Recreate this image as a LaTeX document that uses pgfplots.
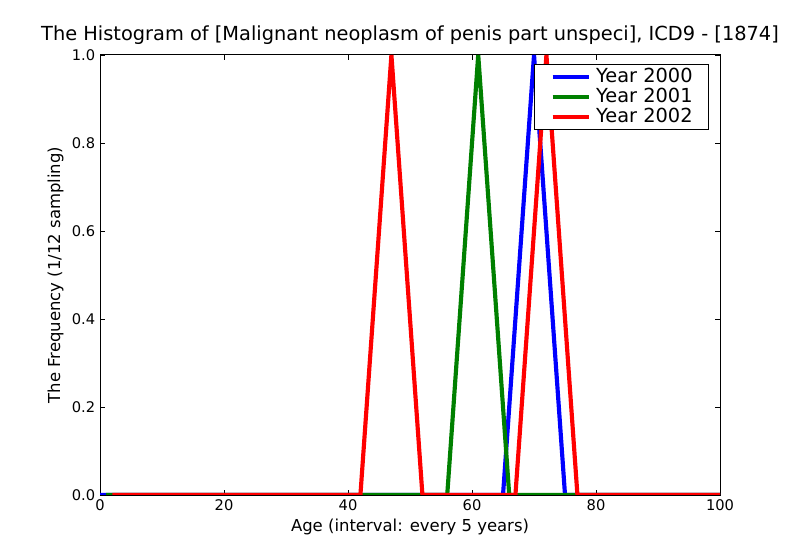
\documentclass[border=0pt]{standalone}
\usepackage{fontspec}
\setmainfont{DejaVu Sans}
\usepackage{pgfplots}
\pgfplotsset{compat=1.18}

\definecolor{mblue}{rgb}{0,0,1}
\definecolor{mgreen}{rgb}{0,0.5,0}
\definecolor{mred}{rgb}{1,0,0}

\begin{document}
\begin{tikzpicture}
  \useasboundingbox (0,0) rectangle (578.16pt,397.49pt);
  \begin{axis}[
      at={(72.27pt,39.75pt)}, anchor=south west,
      scale only axis,
      width=448.1pt, height=318pt,
      xmin=0, xmax=100, ymin=0, ymax=1,
      xtick={0,20,...,100},
      ytick={0,0.2,...,1.0},
      yticklabel style={/pgf/number format/.cd,fixed,fixed zerofill,precision=1},
      /pgf/number format/assume math mode=true,
      tick label style={font=\fontsize{10.6}{12}\selectfont},
      tick align=inside,
      major tick length=3.5pt,
      axis line style={line width=0.7pt},
      every tick/.style={black, line width=0.5pt},
      xlabel={Age (interval: every 5 years)},
      ylabel={The Frequency (1/12 sampling)},
      label style={font=\fontsize{11.9}{14}\selectfont},
      xlabel style={yshift=1pt},
      ylabel style={yshift=-1pt},
      title={The Histogram of [Malignant neoplasm of penis part unspeci], ICD9 - [1874]},
      title style={font=\fontsize{14}{16}\selectfont, yshift=-2pt},
      legend style={at={(1,1)}, anchor=north east, xshift=-8pt, yshift=-6.5pt,
        font=\fontsize{14}{16}\selectfont, draw=black, line width=0.6pt,
        inner xsep=11.5pt, inner ysep=2.5pt, row sep=1.5pt,
        nodes={inner sep=0pt, text height=10.5pt, text depth=2.5pt},
        /tikz/every odd column/.append style={column sep=3.8pt}},
      legend cell align=left,
      legend image code/.code={
        \draw[#1, line width=3.3pt] (0pt,0pt) -- (26pt,0pt);},
      clip=true,
    ]
    \addplot[mblue, line width=3pt, line join=miter] coordinates {
      (0,0) (5,0) (10,0) (15,0) (20,0) (25,0) (30,0) (35,0) (40,0) (45,0)
      (50,0) (55,0) (60,0) (65,0) (70,1) (75,0) (80,0) (85,0) (90,0) (95,0) (100,0)
    };
    \addlegendentry{Year 2000}
    \addplot[mgreen, line width=3pt, line join=miter] coordinates {
      (1,0) (6,0) (11,0) (16,0) (21,0) (26,0) (31,0) (36,0) (41,0) (46,0)
      (51,0) (56,0) (61,1) (66,0) (71,0) (76,0) (81,0) (86,0) (91,0) (96,0) (101,0)
    };
    \addlegendentry{Year 2001}
    \addplot[mred, line width=3pt, line join=miter] coordinates {
      (2,0) (7,0) (12,0) (17,0) (22,0) (27,0) (32,0) (37,0) (42,0) (47,1)
      (52,0) (57,0) (62,0) (67,0) (72,1) (77,0) (82,0) (87,0) (92,0) (97,0) (102,0)
    };
    \addlegendentry{Year 2002}
  \end{axis}
\end{tikzpicture}
\end{document}
